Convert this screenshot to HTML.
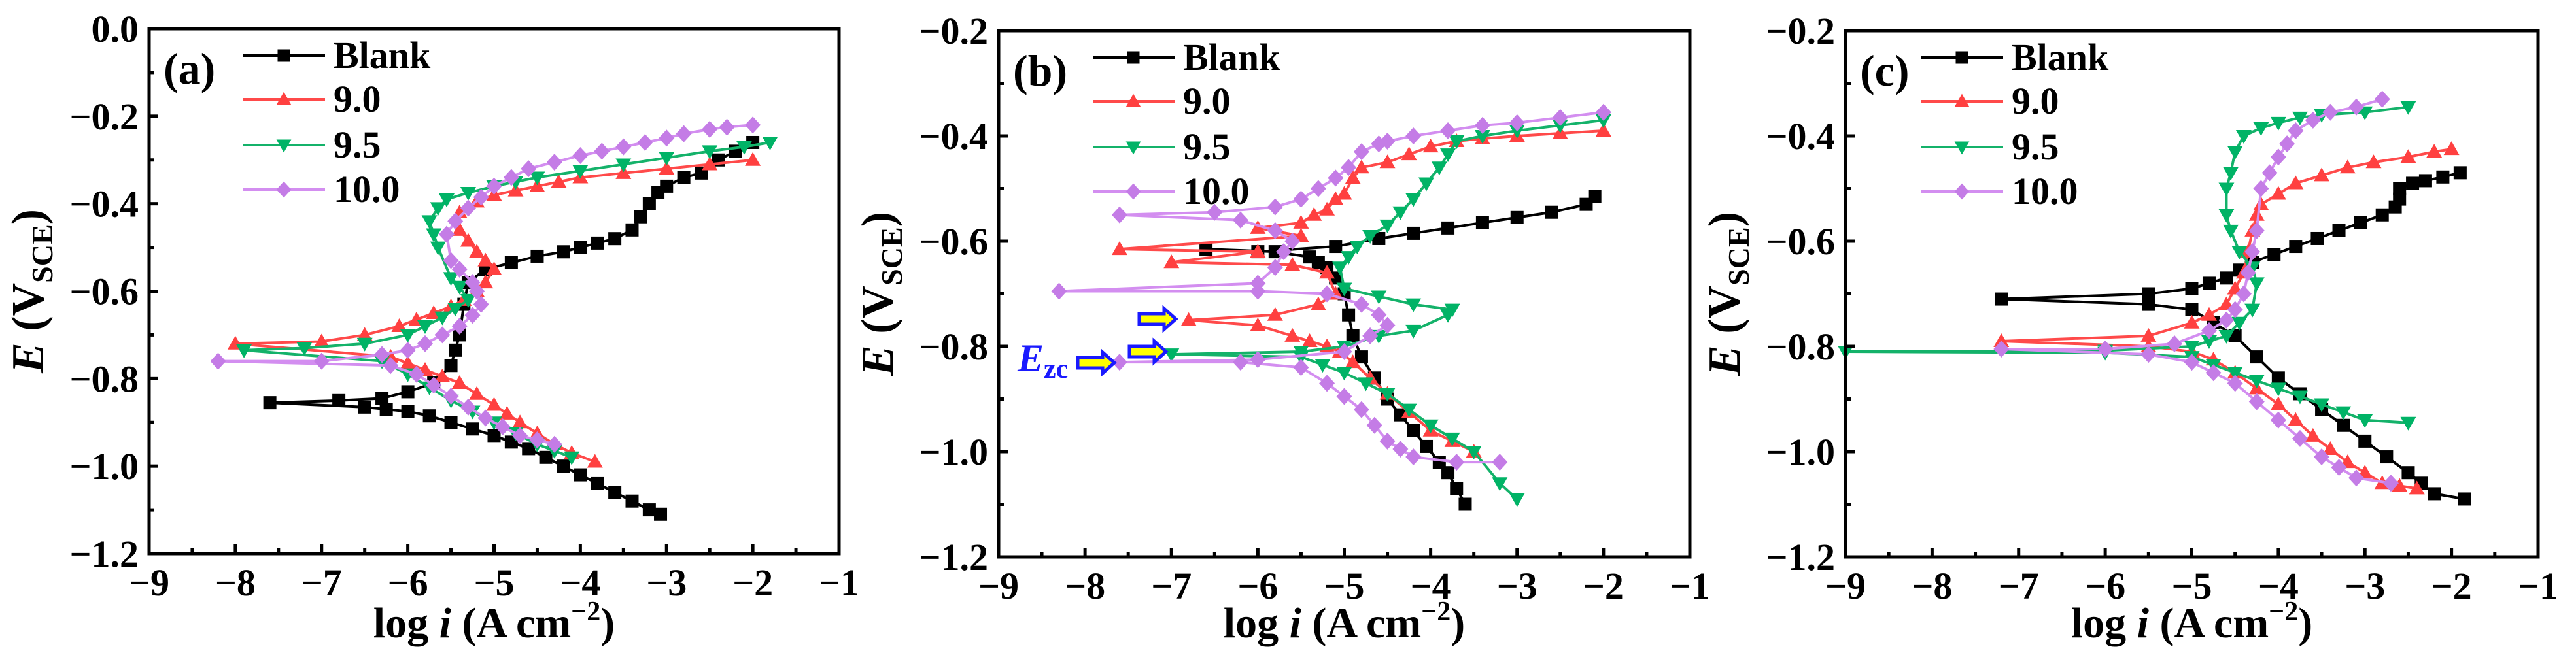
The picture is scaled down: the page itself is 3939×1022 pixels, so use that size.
<!DOCTYPE html>
<html><head><meta charset="utf-8"><style>
html,body{margin:0;padding:0;background:#fff;}
svg{display:block;}
svg text{font-family:"Liberation Serif","Times New Roman","DejaVu Serif",serif;font-weight:bold;}
</style></head><body>
<svg id="fig" width="3939" height="1022" viewBox="0 0 3939 1022" xmlns="http://www.w3.org/2000/svg"></svg>
<script>
// ---- data (log i, E) ----
const xTicks=[-9,-8,-7,-6,-5,-4,-3,-2,-1];
const yTicksA=[0.0,-0.2,-0.4,-0.6,-0.8,-1.0,-1.2];
const yTicksB=[-0.2,-0.4,-0.6,-0.8,-1.0,-1.2];
const seriesNames=["Blank","9.0","9.5","10.0"];

const aBlankX=[-3.07,-3.2,-3.4,-3.6,-3.8,-4.0,-4.2,-4.4,-4.6,-4.8,-5.0,-5.25,-5.5,-5.75,-6.0,-6.25,-6.5,-7.6,-6.8,-6.3,-6.0,-5.7,-5.5,-5.45,-5.4,-5.35,-5.3,-5.1,-4.8,-4.5,-4.2,-4.0,-3.8,-3.6,-3.4,-3.3,-3.2,-3.1,-3.0,-2.8,-2.6,-2.4,-2.2,-2.0];
const aBlankY=[-1.11,-1.10,-1.08,-1.06,-1.04,-1.02,-1.0,-0.98,-0.96,-0.945,-0.93,-0.915,-0.9,-0.885,-0.875,-0.87,-0.865,-0.855,-0.85,-0.845,-0.83,-0.81,-0.77,-0.735,-0.70,-0.63,-0.58,-0.55,-0.535,-0.52,-0.51,-0.50,-0.49,-0.48,-0.46,-0.43,-0.40,-0.375,-0.36,-0.34,-0.33,-0.30,-0.28,-0.26];
const a90X=[-3.83,-4.1,-4.3,-4.5,-4.7,-4.85,-5.0,-5.2,-5.4,-5.6,-5.8,-6.0,-6.2,-8.0,-7.0,-6.5,-6.1,-5.9,-5.7,-5.5,-5.35,-5.2,-5.1,-5.0,-5.1,-5.2,-5.3,-5.4,-5.4,-5.2,-5.0,-4.75,-4.5,-4.25,-4.0,-3.5,-3.0,-2.5,-2.0];
const a90Y=[-0.99,-0.97,-0.95,-0.925,-0.90,-0.88,-0.86,-0.835,-0.81,-0.795,-0.78,-0.765,-0.75,-0.72,-0.715,-0.70,-0.68,-0.665,-0.65,-0.635,-0.62,-0.60,-0.58,-0.55,-0.53,-0.51,-0.485,-0.46,-0.42,-0.395,-0.38,-0.37,-0.36,-0.35,-0.34,-0.33,-0.32,-0.31,-0.30];
const a95X=[-4.1,-4.3,-4.5,-4.75,-5.0,-5.25,-5.5,-5.75,-6.0,-6.3,-7.9,-7.2,-6.5,-6.0,-5.8,-5.6,-5.45,-5.3,-5.4,-5.5,-5.65,-5.7,-5.75,-5.65,-5.55,-5.3,-5.0,-4.75,-4.5,-4.0,-3.5,-3.0,-2.5,-2.1,-1.8];
const a95Y=[-0.98,-0.965,-0.95,-0.925,-0.90,-0.875,-0.85,-0.82,-0.79,-0.76,-0.735,-0.73,-0.72,-0.70,-0.68,-0.66,-0.64,-0.62,-0.59,-0.57,-0.50,-0.47,-0.44,-0.41,-0.39,-0.375,-0.36,-0.35,-0.34,-0.325,-0.31,-0.295,-0.28,-0.27,-0.26];
const a10X=[-4.3,-4.5,-4.7,-4.9,-5.1,-5.3,-5.5,-5.7,-5.9,-6.2,-8.2,-7.0,-6.3,-6.0,-5.8,-5.6,-5.4,-5.25,-5.15,-5.2,-5.25,-5.4,-5.5,-5.55,-5.45,-5.3,-5.15,-5.0,-4.8,-4.6,-4.3,-4.0,-3.75,-3.5,-3.25,-3.0,-2.8,-2.5,-2.3,-2.0];
const a10Y=[-0.95,-0.94,-0.93,-0.91,-0.89,-0.865,-0.84,-0.815,-0.79,-0.77,-0.76,-0.76,-0.745,-0.735,-0.72,-0.70,-0.68,-0.655,-0.63,-0.60,-0.58,-0.55,-0.53,-0.47,-0.44,-0.41,-0.385,-0.36,-0.34,-0.32,-0.305,-0.29,-0.28,-0.27,-0.26,-0.25,-0.24,-0.23,-0.225,-0.22];

const bBlankX=[-3.6,-3.7,-3.8,-3.9,-4.05,-4.2,-4.35,-4.5,-4.65,-4.8,-4.9,-4.95,-5.0,-5.1,-5.2,-5.3,-5.4,-5.8,-6.6,-6.0,-5.1,-4.6,-4.2,-3.8,-3.4,-3.0,-2.6,-2.2,-2.1];
const bBlankY=[-1.10,-1.07,-1.04,-1.02,-0.99,-0.96,-0.93,-0.90,-0.86,-0.82,-0.78,-0.74,-0.70,-0.67,-0.65,-0.64,-0.63,-0.62,-0.615,-0.62,-0.61,-0.595,-0.585,-0.575,-0.565,-0.555,-0.545,-0.53,-0.515];
const b90X=[-3.5,-3.75,-4.0,-4.25,-4.5,-4.7,-4.9,-5.05,-5.2,-5.4,-5.6,-6.0,-6.8,-5.8,-5.3,-5.1,-5.2,-5.6,-7.0,-6.0,-7.6,-5.5,-6.0,-5.5,-5.35,-5.2,-5.1,-5.0,-4.9,-4.8,-4.5,-4.25,-4.0,-3.7,-3.4,-3.0,-2.5,-2.0];
const b90Y=[-1.0,-0.98,-0.96,-0.925,-0.89,-0.86,-0.83,-0.81,-0.80,-0.79,-0.78,-0.76,-0.75,-0.74,-0.72,-0.70,-0.66,-0.645,-0.64,-0.62,-0.615,-0.59,-0.575,-0.565,-0.55,-0.54,-0.52,-0.51,-0.48,-0.46,-0.45,-0.435,-0.42,-0.41,-0.405,-0.40,-0.395,-0.39];
const b95X=[-3.0,-3.2,-3.5,-3.75,-4.0,-4.25,-4.5,-4.75,-5.0,-5.25,-5.5,-7.0,-5.5,-5.0,-4.6,-4.2,-3.8,-3.75,-4.2,-4.6,-5.0,-5.05,-4.95,-4.85,-4.7,-4.5,-4.35,-4.2,-4.05,-3.9,-3.8,-3.7,-3.4,-3.0,-2.5,-2.0];
const b95Y=[-1.09,-1.06,-1.0,-0.975,-0.95,-0.92,-0.89,-0.87,-0.85,-0.835,-0.82,-0.815,-0.81,-0.80,-0.78,-0.77,-0.74,-0.73,-0.72,-0.705,-0.69,-0.65,-0.63,-0.61,-0.59,-0.57,-0.545,-0.52,-0.49,-0.46,-0.435,-0.41,-0.40,-0.39,-0.38,-0.37];
const b10X=[-3.2,-3.7,-4.2,-4.35,-4.5,-4.65,-4.8,-5.0,-5.2,-5.5,-6.2,-7.6,-6.0,-5.0,-4.7,-4.5,-4.6,-4.8,-5.2,-6.0,-8.3,-6.0,-5.8,-5.7,-5.6,-5.8,-6.2,-7.6,-6.5,-5.8,-5.5,-5.3,-5.1,-4.95,-4.8,-4.6,-4.5,-4.2,-3.8,-3.4,-3.0,-2.5,-2.0];
const b10Y=[-1.02,-1.02,-1.01,-0.995,-0.98,-0.95,-0.92,-0.895,-0.87,-0.84,-0.83,-0.83,-0.825,-0.81,-0.78,-0.76,-0.74,-0.72,-0.70,-0.695,-0.695,-0.68,-0.65,-0.62,-0.60,-0.58,-0.56,-0.55,-0.545,-0.535,-0.52,-0.50,-0.48,-0.46,-0.43,-0.415,-0.41,-0.40,-0.39,-0.38,-0.375,-0.365,-0.355];

const cBlankX=[-1.85,-2.2,-2.35,-2.5,-2.75,-3.0,-3.25,-3.5,-3.75,-4.0,-4.25,-4.5,-4.75,-5.0,-5.5,-7.2,-5.5,-5.0,-4.8,-4.6,-4.45,-4.3,-4.05,-3.8,-3.55,-3.3,-3.05,-2.8,-2.65,-2.6,-2.6,-2.45,-2.3,-2.1,-1.9];
const cBlankY=[-1.09,-1.08,-1.06,-1.04,-1.01,-0.98,-0.95,-0.92,-0.89,-0.86,-0.82,-0.78,-0.755,-0.73,-0.72,-0.71,-0.70,-0.69,-0.68,-0.67,-0.655,-0.64,-0.625,-0.61,-0.595,-0.58,-0.565,-0.55,-0.535,-0.52,-0.50,-0.49,-0.485,-0.478,-0.47];
const c90X=[-2.4,-2.6,-2.8,-3.0,-3.2,-3.4,-3.6,-3.8,-4.0,-4.25,-4.5,-4.75,-5.0,-5.5,-7.2,-5.5,-5.0,-4.8,-4.6,-4.5,-4.4,-4.35,-4.3,-4.25,-4.2,-4.0,-3.8,-3.5,-3.2,-2.9,-2.5,-2.2,-2.0];
const c90Y=[-1.07,-1.065,-1.06,-1.04,-1.02,-0.995,-0.97,-0.94,-0.91,-0.88,-0.85,-0.825,-0.81,-0.80,-0.79,-0.78,-0.755,-0.74,-0.72,-0.69,-0.66,-0.62,-0.58,-0.55,-0.53,-0.51,-0.49,-0.475,-0.46,-0.45,-0.44,-0.43,-0.425];
const c95X=[-2.5,-3.0,-3.25,-3.5,-3.75,-4.0,-4.25,-4.5,-4.75,-5.0,-6.0,-9.0,-6.0,-5.0,-4.8,-4.6,-4.45,-4.3,-4.25,-4.3,-4.45,-4.55,-4.6,-4.6,-4.55,-4.5,-4.4,-4.2,-4.0,-3.75,-3.5,-3.0,-2.5];
const c95Y=[-0.945,-0.94,-0.925,-0.91,-0.895,-0.88,-0.865,-0.85,-0.835,-0.82,-0.812,-0.81,-0.808,-0.80,-0.79,-0.78,-0.755,-0.73,-0.68,-0.65,-0.62,-0.58,-0.55,-0.50,-0.47,-0.43,-0.40,-0.385,-0.375,-0.365,-0.36,-0.355,-0.345];
const c10X=[-2.7,-3.1,-3.3,-3.5,-3.75,-4.0,-4.25,-4.5,-4.75,-5.0,-5.5,-7.2,-6.0,-5.2,-4.8,-4.6,-4.5,-4.4,-4.35,-4.3,-4.25,-4.2,-4.1,-4.0,-3.9,-3.8,-3.6,-3.4,-3.1,-2.8];
const c10Y=[-1.06,-1.05,-1.03,-1.01,-0.975,-0.94,-0.905,-0.87,-0.85,-0.83,-0.815,-0.805,-0.805,-0.795,-0.77,-0.75,-0.73,-0.70,-0.66,-0.62,-0.58,-0.50,-0.47,-0.44,-0.415,-0.39,-0.37,-0.355,-0.345,-0.33];

const NS="http://www.w3.org/2000/svg";
const svg=document.getElementById('fig');
const colors=["#000000","#ff4040","#00b366","#c47ce6"];
const lineColors=["#000000","#ff4a4a","#14b26a","#d38ef0"];
const shapes=["square","up","down","diamond"];
function mk(tag,attrs,parent){const e=document.createElementNS(NS,tag);for(const k in attrs)e.setAttribute(k,attrs[k]);(parent||svg).appendChild(e);return e;}

const panels=[
 {id:'a',L:228,R:1283,T:44,B:847,ymin:-1.2,ymax:0.0,yt:yTicksA,label:'(a)',data:[[aBlankX,aBlankY],[a90X,a90Y],[a95X,a95Y],[a10X,a10Y]]},
 {id:'b',L:1527,R:2584,T:47,B:852,ymin:-1.2,ymax:-0.2,yt:yTicksB,label:'(b)',data:[[bBlankX,bBlankY],[b90X,b90Y],[b95X,b95Y],[b10X,b10Y]]},
 {id:'c',L:2822,R:3881,T:47,B:852,ymin:-1.2,ymax:-0.2,yt:yTicksB,label:'(c)',data:[[cBlankX,cBlankY],[c90X,c90Y],[c95X,c95Y],[c10X,c10Y]]}
];

function marker(g,shape,cx,cy,s,col){
  if(shape==='square') return mk('rect',{x:cx-s/2,y:cy-s/2,width:s,height:s,fill:col},g);
  if(shape==='up') return mk('polygon',{points:`${cx},${cy-s*0.6} ${cx-s*0.6},${cy+s*0.45} ${cx+s*0.6},${cy+s*0.45}`,fill:col},g);
  if(shape==='down') return mk('polygon',{points:`${cx},${cy+s*0.6} ${cx-s*0.6},${cy-s*0.45} ${cx+s*0.6},${cy-s*0.45}`,fill:col},g);
  return mk('polygon',{points:`${cx},${cy-s*0.65} ${cx+s*0.6},${cy} ${cx},${cy+s*0.65} ${cx-s*0.6},${cy}`,fill:col},g);
}
function txt(attrs,parent){return mk('text',attrs,parent);}

panels.forEach(p=>{
  const X=v=>p.L+(v-(-9))/8*(p.R-p.L);
  const Y=v=>p.T+(p.ymax-v)/(p.ymax-p.ymin)*(p.B-p.T);
  const g=mk('g',{});  
  p.data.forEach((d,si)=>{
    const sg=mk('g',{},g);
    
    
    const pts=d[0].map((x,i)=>X(x)+','+Y(d[1][i])).join(' ');
    mk('polyline',{points:pts,fill:'none',stroke:lineColors[si],'stroke-width':4,'stroke-linejoin':'round'},sg);
    d[0].forEach((x,i)=>{const m=marker(sg,shapes[si],X(x),Y(d[1][i]),20,colors[si]);
      
      });
  });
  const fr=mk('rect',{x:p.L,y:p.T,width:p.R-p.L,height:p.B-p.T,fill:'none',stroke:'#000','stroke-width':5},g);
   
  xTicks.forEach((t,i)=>{
    const x=X(t);
    mk('line',{x1:x,y1:p.B,x2:x,y2:p.B-14,stroke:'#000','stroke-width':5},g);
    if(i<xTicks.length-1){const xm=X(t+0.5);mk('line',{x1:xm,y1:p.B,x2:xm,y2:p.B-8,stroke:'#000','stroke-width':5},g);}
    const tx=txt({x:x,y:p.B+64,'text-anchor':'middle','font-size':58},g);
    tx.textContent=(t<0?'\u2212':'')+Math.abs(t);
     
  });
  p.yt.forEach((t,i)=>{
    const y=Y(t);
    mk('line',{x1:p.L,y1:y,x2:p.L+14,y2:y,stroke:'#000','stroke-width':5},g);
    if(i<p.yt.length-1){const ym=Y(t-0.1);mk('line',{x1:p.L,y1:ym,x2:p.L+8,y2:ym,stroke:'#000','stroke-width':5},g);}
    const ty=txt({x:p.L-16,y:y+20,'text-anchor':'end','font-size':58},g);
    ty.textContent=(t<0?'\u2212':'')+Math.abs(t).toFixed(1);
     
  });
  const xt=txt({x:(p.L+p.R)/2,y:975,'text-anchor':'middle','font-size':66},g);
  xt.innerHTML='log <tspan font-style="italic">i</tspan> (A cm<tspan dy="-26" font-size="42">\u22122</tspan><tspan dy="26">)</tspan>';
   
  const cy=(p.T+p.B)/2;
  const yt=txt({x:0,y:0,'text-anchor':'middle','font-size':70,transform:`translate(${p.L-162},${cy}) rotate(-90)`},g);
  yt.innerHTML='<tspan font-style="italic">E</tspan> (V<tspan dy="14" font-size="46">SCE</tspan><tspan dy="-14">)</tspan>';
   
  const pl=txt({x:p.L+22,y:p.T+84,'font-size':68},g);
  pl.textContent=p.label;  
  const ox=p.id==='c'?-28:0;
  const rows=[p.T+41,p.T+108,p.T+178,p.T+246];
  seriesNames.forEach((n,si)=>{
    const lg=mk('g',{},g);  
    const lx=p.L+144+ox, ly=rows[si];
    mk('line',{x1:lx,y1:ly,x2:lx+125,y2:ly,stroke:lineColors[si],'stroke-width':4},lg);
    marker(lg,shapes[si],lx+62,ly,19,colors[si]);
    const t=txt({x:lx+138,y:ly+19,'font-size':58},lg); t.textContent=n;
  });
});

const ann=mk('g',{});  
const ez=txt({x:1556,y:568,'font-size':60,fill:'#1a1aff','font-style':'italic'},ann);
ez.innerHTML='E<tspan font-size="42" dy="10" font-style="normal">zc</tspan>';
function arrow(x,y){
  const a=mk('polygon',{points:`${x},${y-8} ${x+38},${y-8} ${x+38},${y-16} ${x+56},${y} ${x+38},${y+16} ${x+38},${y+8} ${x},${y+8}`,fill:'#ffff00',stroke:'#1a1aff','stroke-width':5,'stroke-linejoin':'miter'},ann);
   
}
arrow(1648,555); arrow(1727,538); arrow(1742,488);
</script>
</body></html>
